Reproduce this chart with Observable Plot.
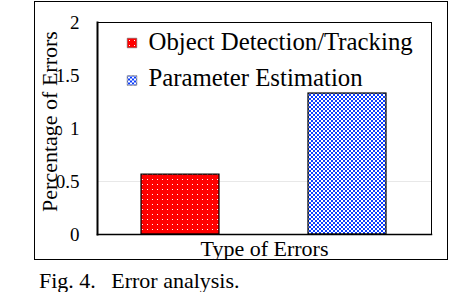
<!DOCTYPE html>
<html>
<head>
<meta charset="utf-8">
<script src="https://cdn.jsdelivr.net/npm/d3@7"></script>
<script src="https://cdn.jsdelivr.net/npm/@observablehq/plot@0.6"></script>
<style>
  html, body { margin: 0; padding: 0; background: #fff; }
  #chart svg { display: block; margin: 1px 0 0 34px; border: 1px solid #000; }
  #caption { margin: 10px 0 0 39px; font: 22px "Liberation Serif", "Times New Roman", serif; line-height: 22px; white-space: pre; color: #000; }
</style>
</head>
<body>
<div id="chart"></div>
<div id="caption">Fig. 4. &#8201; Error analysis.</div>
<script>
const categories = ["Object Detection/Tracking", "Parameter Estimation"];
const values = [0.565, 1.33];
const yTicks = [0, 0.5, 1, 1.5, 2];
const gridTicks = [0.5];
const yLabel = "Percentage of Errors";
const xLabel = "Type of Errors";

const data = categories.map((c, i) => ({type: c, value: values[i]}));
const patterns = ["url(#redDots)", "url(#blueCheck)"];
const serif = '"Liberation Serif", "Times New Roman", serif';

const legendMarks = categories.flatMap((c, i) => [
  Plot.dot([c], {frameAnchor: "top-left", dx: 34.5, dy: 20.5 + i * 37.5, symbol: "square", r: 5.4,
                 fill: d => d, stroke: "#666", strokeWidth: 0.6}),
  Plot.text([c], {frameAnchor: "top-left", dx: 51, dy: 27.7 + i * 35.5, lineAnchor: "bottom",
                  textAnchor: "start", fontSize: 24.8, fill: "#000"})
]);

const chart = Plot.plot({
  width: 412,
  height: 257,
  marginLeft: 62,
  marginRight: 16,
  marginTop: 20,
  marginBottom: 25,
  style: {fontFamily: serif, fontSize: "19px", color: "#000", background: "#fff"},
  x: {domain: categories, paddingInner: 0.53, paddingOuter: 0.265, axis: null},
  y: {domain: [0, 2], ticks: yTicks, axis: null},
  color: {type: "ordinal", domain: categories, range: patterns},
  marks: [
    Plot.gridY(gridTicks, {stroke: "#e8e8e8", strokeOpacity: 1}),
    Plot.barY(data, {x: "type", y: "value", fill: "type", stroke: "#000", strokeWidth: 1.2}),
    Plot.axisY(yTicks, {tickSize: 0, tickPadding: 18, tickFormat: d => String(d), fontSize: 19, label: null}),
    Plot.frame({stroke: "#000", strokeWidth: 1}),
    Plot.frame({anchor: "left", stroke: "#000", strokeWidth: 2}),
    Plot.frame({anchor: "bottom", stroke: "#000", strokeWidth: 1.5}),
    Plot.text([yLabel], {frameAnchor: "left", rotate: -90, dx: -40.3, dy: -7, lineAnchor: "bottom", fontSize: 22, textAnchor: "middle"}),
    Plot.text([xLabel], {frameAnchor: "bottom", lineAnchor: "bottom", dy: 21, fontSize: 22, textAnchor: "middle"}),
    ...legendMarks
  ]
});

// pattern fills for bars and legend swatches
const ns = "http://www.w3.org/2000/svg";
const defs = document.createElementNS(ns, "defs");
defs.innerHTML = `
  <pattern id="redDots" width="5" height="5" patternUnits="userSpaceOnUse">
    <rect width="5" height="5" fill="#ff0000"/>
    <rect x="2" y="2" width="1" height="1" fill="#ffffff"/>
  </pattern>
  <pattern id="blueCheck" width="4" height="4" patternUnits="userSpaceOnUse">
    <rect width="4" height="4" fill="#0a3cff"/>
    <rect x="0" y="0" width="2" height="2" fill="#ffffff"/>
    <rect x="2" y="2" width="2" height="2" fill="#ffffff"/>
  </pattern>`;
chart.insertBefore(defs, chart.firstChild);
document.getElementById("chart").appendChild(chart);
</script>
</body>
</html>
